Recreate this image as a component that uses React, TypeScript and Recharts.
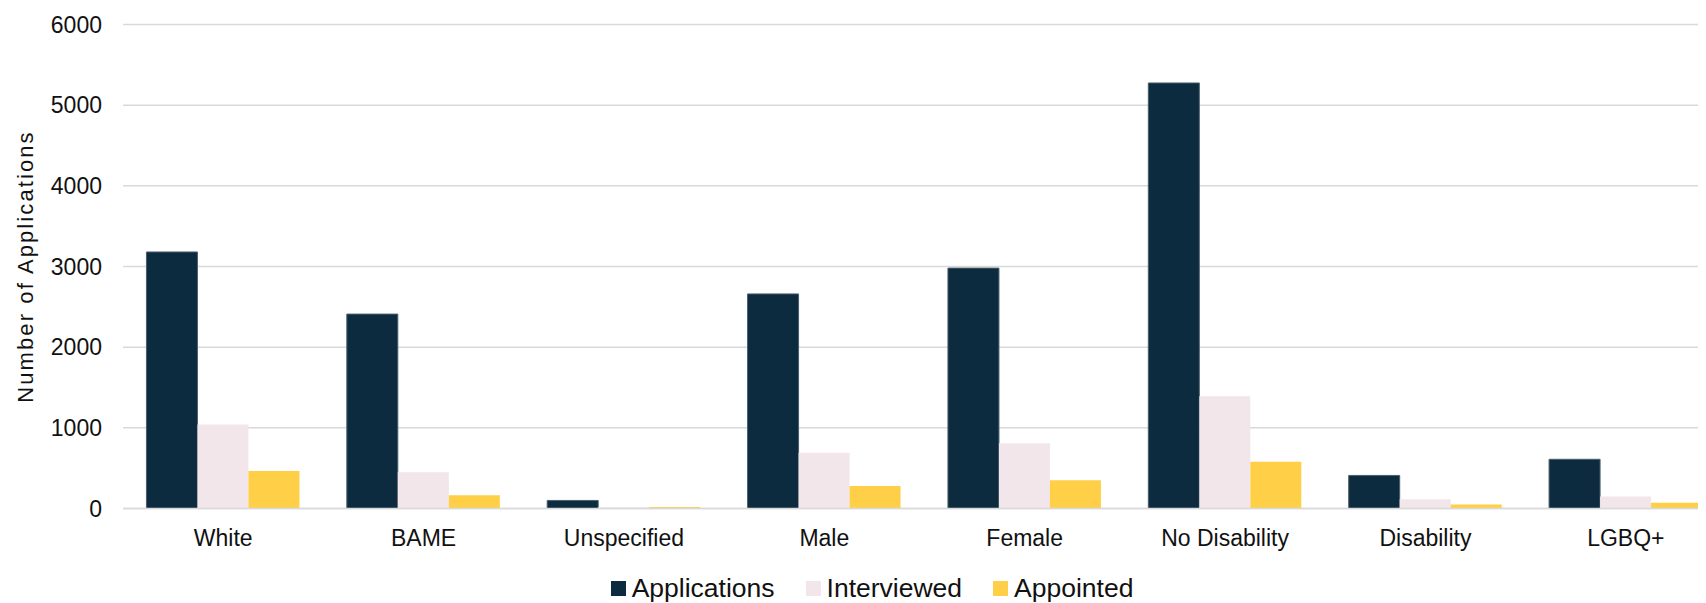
import { Bar, BarChart, CartesianGrid, Legend, XAxis, YAxis } from 'recharts';

const categories = ['White', 'BAME', 'Unspecified', 'Male', 'Female', 'No Disability', 'Disability', 'LGBQ+'];
const applications = [3180, 2410, 100, 2660, 2980, 5275, 410, 610];
const interviewed = [1040, 450, 15, 690, 810, 1390, 115, 150];
const appointed = [465, 165, 20, 280, 350, 580, 50, 72];
const yTicks = [0, 1000, 2000, 3000, 4000, 5000, 6000];

const FONT = '"Liberation Sans", Arial, sans-serif';

const series = [
  { key: 'Applications', color: '#0d2b3e', stroke: '#4a5f6c' },
  { key: 'Interviewed', color: '#f2e6ea', stroke: 'none' },
  { key: 'Appointed', color: '#ffcf48', stroke: 'none' },
];

const data = categories.map((name, i) => ({
  name,
  Applications: applications[i],
  Interviewed: interviewed[i],
  Appointed: appointed[i],
}));

function AxisTitle() {
  return (
    <text
      x={24.5}
      y={258.5}
      transform="rotate(-90 24.5 258.5)"
      textAnchor="middle"
      fill="#111"
      style={{ fontFamily: FONT, fontSize: 22, letterSpacing: 2.1 }}
    >
      Number  of Applications
    </text>
  );
}

function LegendBox() {
  return (
    <div style={{ display: 'flex', alignItems: 'center', fontFamily: FONT, fontSize: 26.5, color: '#111', whiteSpace: 'nowrap' }}>
      {series.map((s, i) => (
        <div key={s.key} style={{ display: 'flex', alignItems: 'center', marginLeft: i === 0 ? 0 : 31 }}>
          <span style={{ width: 15, height: 15, background: s.color, marginRight: 6, display: 'inline-block' }} />
          <span>{s.key}</span>
        </div>
      ))}
    </div>
  );
}

export default function App() {
  return (
    <div style={{ width: 1698, height: 595, overflow: 'hidden', background: '#fff' }}>
      <BarChart
        width={1730}
        height={595}
        data={data}
        margin={{ top: 16.5, right: 12, bottom: 0, left: 0 }}
        barCategoryGap="11.7%"
        barGap={0}
      >
        <CartesianGrid vertical={false} stroke="#d9d9d9" strokeWidth={1.5} />
        <XAxis
          dataKey="name"
          height={94.5}
          tickLine={false}
          tickSize={0}
          tickMargin={21}
          axisLine={{ stroke: '#d9d9d9', strokeWidth: 1.5 }}
          tick={{ fill: '#111', fontSize: 23, fontFamily: FONT }}
          interval={0}
        />
        <YAxis
          width={115}
          domain={[0, 6000]}
          ticks={yTicks}
          tickLine={false}
          axisLine={false}
          tickSize={0}
          tickMargin={21}
          tick={{ fill: '#111', fontSize: 23, fontFamily: FONT }}
          label={<AxisTitle />}
        />
        <Legend
          verticalAlign="middle"
          align="center"
          content={<LegendBox />}
          wrapperStyle={{ left: 602.7, top: 564.5, width: 'auto' }}
        />
        {series.map((s) => (
          <Bar
            key={s.key}
            dataKey={s.key}
            fill={s.color}
            stroke={s.stroke}
            strokeWidth={1}
            isAnimationActive={false}
          />
        ))}
      </BarChart>
    </div>
  );
}
